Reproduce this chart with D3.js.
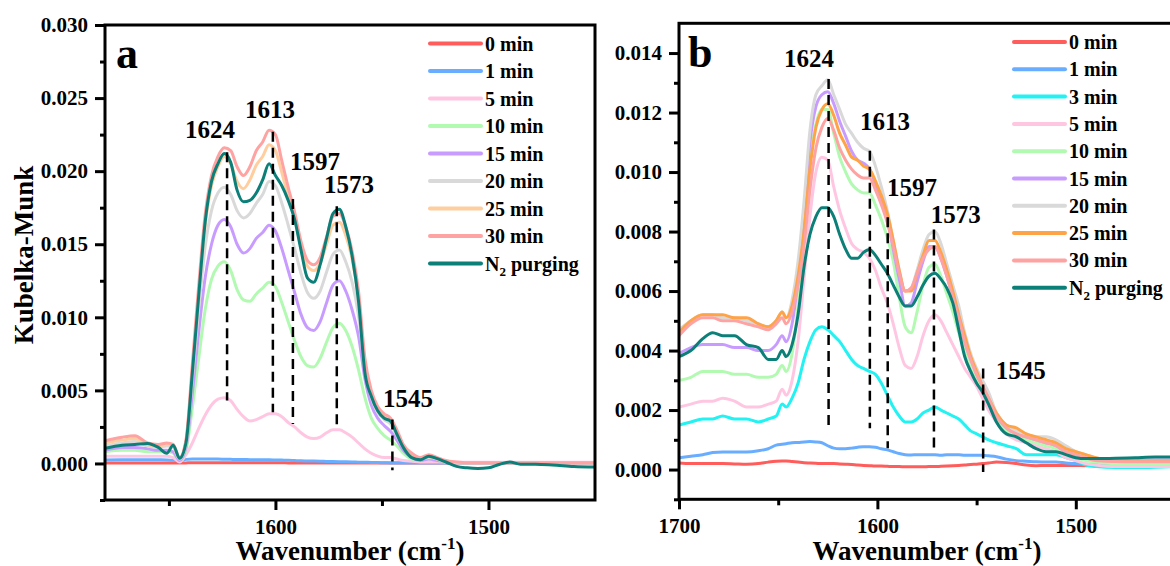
<!DOCTYPE html>
<html>
<head>
<meta charset="utf-8">
<script src="https://cdn.jsdelivr.net/npm/d3@7/dist/d3.min.js"></script>
<style>
  body { margin: 0; background: #fff; }
  svg text { font-family: "Liberation Serif", "Times New Roman", serif; font-weight: bold; fill: #000; }
</style>
</head>
<body>
<div id="chart"></div>
<script>
// ---------- panel a data ----------
const wavenumberA = [1680,1672,1666,1660,1655,1651,1648,1645,1642,1639,1636,1633,1630,1627,1624,1621,1618,1615,1612,1609,
  1606,1603,1600,1597,1594,1591,1588,1585,1582,1579,1576,1573,1570,1567,1564,1561,1558,1555,1552,1549,
  1546,1543,1540,1536,1532,1528,1524,1520,1515,1510,1505,1500,1495,1490,1485,1478,1470,1460,1450];

const a0min = [0.00004,0.00004,0.00004,0.00004,0.00004,0.00004,0.00004,0.00003,0.00004,0.00005,0.00005,0.00005,0.00005,0.00005,0.00005,0.00005,0.00005,0.00005,0.00005,0.00005,
  0.00005,0.00005,0.00005,0.00005,0.00004,0.00004,0.00004,0.00004,0.00004,0.00003,0.00003,0.00003,0.00003,0.00003,0.00003,0.00003,0.00003,0.00003,0.00003,0.00003,
  0.00003,0.00003,0.00003,0.00003,0.00003,0.00003,0.00003,0.00003,0.00003,0.00003,0.00003,0.00003,0.00003,0.00003,0.00003,0.00003,0.00003,0.00003,0.00003];
const a1min = [0.00023,0.00025,0.00026,0.00026,0.00025,0.00024,0.00022,0.00018,0.00028,0.0003,0.0003,0.0003,0.0003,0.0003,0.00029,0.00028,0.00027,0.00027,0.00026,0.00026,
  0.00025,0.00025,0.00024,0.00023,0.00022,0.0002,0.00018,0.00017,0.00016,0.00015,0.00014,0.00013,0.00012,0.00011,0.0001,0.00009,0.00008,0.00007,0.00006,0.00005,
  0.00004,0.00004,0.00003,0.00003,0.00003,0.00003,0.00003,0.00003,0.00003,0.00003,0.00003,0.00003,0.00003,0.00003,0.00003,0.00003,0.00003,0.00003,0.00003];
const a5min = [0.0005,0.0005,0.0005,0.0005,0.0005,0.0005,0.0004,0.0001,0.0006,0.0014,0.0024,0.0033,0.0040,0.0044,0.0045,0.0043,0.0037,0.0032,0.0029,0.0030,
  0.0032,0.0034,0.0034,0.0032,0.0028,0.0025,0.0021,0.0018,0.0017,0.0018,0.0021,0.0023,0.0023,0.0021,0.0018,0.0014,0.0010,0.0007,0.0005,0.0004,
  0.0004,0.0003,0.0002,0.00015,0.0001,0.0001,0.0001,0.0001,0.00008,0.00008,0.00008,0.00008,0.00008,0.00008,0.00008,0.00008,0.00008,0.00008,0.00008];
const a10min = [0.0008,0.0009,0.0009,0.0008,0.0008,0.0008,0.0007,0.0002,0.0009,0.0038,0.0072,0.0105,0.0126,0.0135,0.0138,0.0132,0.0119,0.0112,0.0111,0.0116,
  0.0120,0.0124,0.0121,0.0110,0.0097,0.0084,0.0073,0.0067,0.0066,0.0072,0.0083,0.0093,0.0096,0.0091,0.0080,0.0064,0.0045,0.0031,0.0024,0.0019,
  0.0016,0.0012,0.0007,0.0003,0.0002,0.0003,0.0002,0.0001,0.00005,0.00005,0.00005,0.00005,0.00005,0.00005,0.00005,0.00005,0.00005,0.00005,0.00005];
const a15min = [0.0009,0.0011,0.0011,0.0010,0.0009,0.0009,0.0008,0.0002,0.0011,0.0048,0.0090,0.0127,0.0150,0.0163,0.0167,0.0162,0.0150,0.0144,0.0147,0.0154,
  0.0158,0.0163,0.0159,0.0147,0.0132,0.0117,0.0102,0.0093,0.0091,0.0097,0.0110,0.0122,0.0125,0.0118,0.0105,0.0087,0.0058,0.0040,0.0031,0.0026,
  0.0022,0.0016,0.0009,0.0004,0.0002,0.0003,0.0002,0.0001,0.00005,0.00005,0.00005,0.00005,0.00005,0.00005,0.00005,0.00005,0.00005,0.00005,0.00005];
const a20min = [0.0012,0.0014,0.0015,0.0012,0.0011,0.0012,0.0011,0.0003,0.0013,0.0058,0.0106,0.0148,0.0173,0.0185,0.0189,0.0184,0.0173,0.0168,0.0171,0.0178,
  0.0184,0.0193,0.0190,0.0178,0.0163,0.0147,0.0130,0.0117,0.0113,0.0118,0.0131,0.0143,0.0146,0.0138,0.0124,0.0101,0.0064,0.0045,0.0035,0.0030,
  0.0027,0.0019,0.0011,0.0005,0.0003,0.0004,0.0003,0.0001,0.00005,0.00005,0.00005,0.00005,0.00005,0.00005,0.00005,0.00005,0.00005,0.00005,0.00005];
const a25min = [0.0014,0.0016,0.0017,0.0013,0.0012,0.0013,0.0012,0.0004,0.0015,0.0064,0.0117,0.0163,0.0190,0.0203,0.0210,0.0205,0.0193,0.0188,0.0194,0.0204,
  0.0210,0.0218,0.0214,0.0199,0.0183,0.0168,0.0148,0.0135,0.0132,0.0137,0.0150,0.0163,0.0165,0.0156,0.0140,0.0113,0.0069,0.0048,0.0037,0.0032,
  0.0029,0.0021,0.0012,0.0006,0.0003,0.0005,0.0003,0.0001,0.00005,0.00005,0.00005,0.00005,0.00005,0.00005,0.00005,0.00005,0.00005,0.00005,0.00005];
const a30min = [0.00155,0.0018,0.0019,0.0014,0.0013,0.0014,0.0013,0.0004,0.0016,0.0068,0.0122,0.0170,0.0197,0.0210,0.0216,0.0214,0.0203,0.0197,0.0203,0.0214,
  0.0220,0.0228,0.0225,0.0207,0.0189,0.0172,0.0152,0.0139,0.0136,0.0141,0.0155,0.0169,0.0171,0.0162,0.0145,0.0118,0.0072,0.0050,0.0039,0.0034,
  0.0031,0.0023,0.0013,0.0007,0.0004,0.0006,0.0004,0.0002,0.0001,0.00005,0.00005,0.00005,0.00005,0.00005,0.00005,0.00005,0.00005,0.00005,0.00005];
const aN2 = [0.00103,0.00125,0.0013,0.00137,0.0011,0.0007,0.00125,0.00035,0.0014,0.0062,0.0115,0.0165,0.0193,0.0205,0.0212,0.0206,0.0187,0.0179,0.0180,0.0185,
  0.0194,0.0205,0.0197,0.0190,0.0180,0.0167,0.0146,0.0127,0.0124,0.0136,0.0154,0.0171,0.0174,0.0162,0.0142,0.0111,0.0062,0.0046,0.0036,0.0031,
  0.0029,0.0020,0.0011,0.0004,0.00025,0.0005,0.00033,0.0001,-0.0002,-0.0003,-0.00034,-0.0003,-0.00007,0.0001,-0.00005,-0.00005,-0.0001,-0.0002,-0.00025];

const namesA = ["0 min", "1 min", "5 min", "10 min", "15 min", "20 min", "25 min", "30 min", "N2 purging"];
const colorsA = ["#ff5c5c", "#68adff", "#ffc6e2", "#b2f9b2", "#c89cff", "#d9d9d9", "#ffcd9e", "#ffa2a2", "#0b7f78"];

// dashed marker lines and peak labels (panel a)
const peakLabelsA = ["1624", "1613", "1597", "1573", "1545"];
const markWA = [1622.7, 1601.2, 1591.8, 1571.2, 1545.1];
const markTopA = [0.0213, 0.0227, 0.0181, 0.0176, 0.0030];
const markBottomA = [0.0043, 0.0035, 0.0027, 0.0023, -0.00046];
const labelWA = [1630.7, 1602.5, 1581.4, 1565.5, 1537.8];
const labelVA = [0.0223, 0.02362, 0.02007, 0.01849, 0.00385];

const yTicksA = [0, 0.005, 0.010, 0.015, 0.020, 0.025, 0.030];
const yMinorA = [-0.0025, 0.0025, 0.0075, 0.0125, 0.0175, 0.0225, 0.0275];
const xTicksA = [1600, 1500];
const xMinorA = [1650, 1550];

// ---------- panel b data ----------
const wavenumberB = [1700,1694,1688,1683,1678,1672,1666,1660,1655,1651,1648,1646,1643,1640,1637,1634,1631,1628,1625,1622,
  1619,1616,1613,1610,1607,1604,1601,1598,1595,1592,1589,1586,1583,1580,1577,1574,1571,1568,1565,1562,
  1559,1556,1553,1550,1547,1544,1540,1535,1530,1525,1520,1515,1510,1505,1500,1495,1490,1480,1470,1460,1450];

const b0min = [0.00022,0.0002,0.0002,0.0002,0.0002,0.00019,0.00018,0.0002,0.00025,0.00028,0.00029,0.00029,0.00027,0.00025,0.00023,0.00022,0.00021,0.0002,0.0002,0.0002,
  0.00019,0.00018,0.00017,0.00015,0.00014,0.00013,0.00012,0.00012,0.00011,0.0001,0.0001,0.00009,0.00009,0.00009,0.00009,0.0001,0.0001,0.00011,0.00012,0.00013,
  0.00014,0.00015,0.00017,0.00018,0.0002,0.00022,0.00025,0.00024,0.0002,0.00015,0.00013,0.00014,0.00014,0.00014,0.00014,0.00013,0.00013,0.00012,0.00012,0.00012,0.00012];
const b1min = [0.0004,0.00045,0.0005,0.00057,0.00059,0.00059,0.00059,0.00063,0.0007,0.00082,0.00085,0.00087,0.0009,0.00091,0.00093,0.00094,0.00093,0.0009,0.0008,0.00072,
  0.0007,0.0007,0.00072,0.00075,0.00077,0.00077,0.00075,0.0007,0.00066,0.0006,0.00054,0.0005,0.00049,0.0005,0.0005,0.0005,0.0005,0.00048,0.0005,0.0005,
  0.0005,0.00048,0.00048,0.00048,0.00048,0.00046,0.00043,0.00035,0.0003,0.00028,0.00026,0.00025,0.00025,0.00022,0.0002,0.00018,0.00016,0.00015,0.00015,0.00015,0.00015];
const b3min = [0.0015,0.0016,0.0017,0.0017,0.0018,0.0017,0.0017,0.0016,0.0017,0.0018,0.0022,0.0021,0.0024,0.0029,0.0037,0.0043,0.0047,0.0048,0.0047,0.0045,
  0.0043,0.0040,0.0037,0.0035,0.0034,0.0033,0.0032,0.0029,0.0025,0.0021,0.0018,0.0016,0.0016,0.0017,0.0019,0.0020,0.0021,0.0020,0.0019,0.0018,
  0.0017,0.0015,0.0013,0.0012,0.0011,0.0010,0.0009,0.0008,0.0007,0.0005,0.0005,0.0005,0.0005,0.0004,0.0003,0.00015,0.0001,0.00007,0.00007,0.00008,0.0001];
const b5min = [0.0021,0.0022,0.0023,0.0023,0.0024,0.0023,0.0021,0.0021,0.0022,0.0023,0.0027,0.0025,0.0030,0.0043,0.0064,0.0085,0.0100,0.0105,0.0104,0.0095,
  0.0087,0.0081,0.0076,0.0074,0.0073,0.0071,0.0067,0.0061,0.0056,0.0049,0.0041,0.0035,0.0034,0.0038,0.0045,0.0050,0.0052,0.0050,0.0046,0.0042,
  0.0038,0.0034,0.0031,0.0028,0.0024,0.0020,0.0016,0.0012,0.0010,0.0009,0.0008,0.0007,0.0006,0.0004,0.0003,0.0002,0.00015,0.0001,0.0001,0.0001,0.0001];
const b10min = [0.0030,0.0031,0.0033,0.0033,0.0033,0.0032,0.0032,0.0031,0.0031,0.0032,0.0035,0.0033,0.0039,0.0055,0.0080,0.0104,0.0116,0.0121,0.0121,0.0113,
  0.0105,0.0100,0.0096,0.0094,0.0093,0.0093,0.0089,0.0084,0.0078,0.0070,0.0058,0.0048,0.0046,0.0053,0.0062,0.0068,0.0069,0.0065,0.0059,0.0053,
  0.0046,0.0040,0.0034,0.0030,0.0026,0.0022,0.0017,0.0013,0.0011,0.0010,0.0009,0.0008,0.0007,0.0005,0.0004,0.0003,0.00025,0.0002,0.0002,0.0002,0.0002];
const b15min = [0.0039,0.0041,0.0042,0.0042,0.0042,0.0041,0.0041,0.0040,0.0040,0.0042,0.0045,0.0043,0.0049,0.0064,0.0086,0.0110,0.0122,0.0126,0.0127,0.0123,
  0.0117,0.0112,0.0107,0.0104,0.0103,0.0101,0.0096,0.0090,0.0084,0.0074,0.0064,0.0055,0.0056,0.0063,0.0070,0.0075,0.0075,0.0071,0.0065,0.0058,
  0.0050,0.0043,0.0037,0.0032,0.0028,0.0024,0.0018,0.0014,0.0012,0.0011,0.0010,0.0009,0.0008,0.0006,0.0005,0.0004,0.00035,0.00032,0.00032,0.00032,0.00032];
const b20min = [0.0047,0.0050,0.0052,0.0052,0.0051,0.0051,0.0050,0.0049,0.0048,0.0050,0.0053,0.0051,0.0057,0.0070,0.0090,0.0114,0.0126,0.0129,0.0131,0.0126,
  0.0121,0.0116,0.0113,0.0110,0.0108,0.0107,0.0102,0.0095,0.0087,0.0077,0.0067,0.0060,0.0061,0.0067,0.0074,0.0079,0.0080,0.0076,0.0069,0.0062,
  0.0055,0.0046,0.0039,0.0034,0.0030,0.0026,0.0019,0.0015,0.0013,0.0012,0.0011,0.0011,0.0010,0.0008,0.0006,0.0005,0.0004,0.0003,0.0003,0.0003,0.0003];
const b25min = [0.0046,0.0050,0.0052,0.0052,0.0052,0.0051,0.0051,0.0049,0.0048,0.0050,0.0053,0.0051,0.0055,0.0065,0.0080,0.0101,0.0115,0.0121,0.0123,0.0119,
  0.0113,0.0109,0.0105,0.0104,0.0102,0.0101,0.0097,0.0092,0.0086,0.0077,0.0067,0.0060,0.0060,0.0066,0.0072,0.0077,0.0077,0.0073,0.0067,0.0060,
  0.0052,0.0045,0.0038,0.0033,0.0028,0.0024,0.0019,0.0015,0.0014,0.0012,0.0011,0.0010,0.0009,0.0007,0.0006,0.0005,0.0004,0.0003,0.0003,0.0003,0.0003];
const b30min = [0.0045,0.0049,0.0051,0.0051,0.0050,0.0050,0.0049,0.0048,0.0047,0.0049,0.0051,0.0049,0.0053,0.0062,0.0075,0.0094,0.0108,0.0115,0.0118,0.0114,
  0.0108,0.0104,0.0101,0.0099,0.0098,0.0098,0.0094,0.0089,0.0083,0.0075,0.0066,0.0060,0.0061,0.0066,0.0071,0.0074,0.0075,0.0071,0.0065,0.0058,
  0.0051,0.0043,0.0037,0.0032,0.0028,0.0024,0.0018,0.0014,0.0012,0.0011,0.0010,0.0009,0.0008,0.0006,0.0005,0.0004,0.0003,0.00027,0.00026,0.00026,0.00026];
const bN2 = [0.0038,0.0040,0.0044,0.0046,0.0045,0.0045,0.0042,0.0041,0.0037,0.0037,0.0040,0.0038,0.0042,0.0052,0.0068,0.0079,0.0085,0.0088,0.0088,0.0085,
  0.0079,0.0074,0.0071,0.0071,0.0073,0.0074,0.0072,0.0069,0.0066,0.0062,0.0058,0.0055,0.0055,0.0058,0.0062,0.0065,0.0066,0.0064,0.0061,0.0056,
  0.0047,0.0038,0.0033,0.0029,0.0026,0.0022,0.0016,0.0012,0.0011,0.0009,0.0007,0.0006,0.0006,0.0005,0.0004,0.00037,0.00037,0.00038,0.0004,0.00042,0.00042];

const namesB = ["0 min", "1 min", "3 min", "5 min", "10 min", "15 min", "20 min", "25 min", "30 min", "N2 purging"];
const colorsB = ["#ff5c5c", "#68adff", "#22f2f2", "#ffc6e2", "#b2f9b2", "#c89cff", "#d9d9d9", "#ffa347", "#ffa2a2", "#0b7f78"];

const peakLabelsB = ["1624", "1613", "1597", "1573", "1545"];
const markWB = [1624.6, 1603.8, 1594.8, 1571.5, 1546.7];
const markTopB = [0.01313, 0.01072, 0.00848, 0.00807, 0.0034];
const markBottomB = [0.00132, 0.00139, 0.00072, 0.00055, -0.00008];
const labelWB = [1634.5, 1596.2, 1582.6, 1560.5, 1527.7];
const labelVB = [0.01352, 0.01142, 0.00918, 0.00828, 0.00306];

const yTicksB = [0, 0.002, 0.004, 0.006, 0.008, 0.010, 0.012, 0.014];
const yMinorB = [-0.001, 0.001, 0.003, 0.005, 0.007, 0.009, 0.011, 0.013];
const xTicksB = [1700, 1600, 1500];
const xMinorB = [1650, 1550];

let svg = d3.select("#chart").append("svg")
  .attr("width", 1170)
  .attr("height", 566);

svg.append("rect").attr("width", 1170).attr("height", 566).attr("fill", "white");

let drawPanel = (cfg) => {
  let x = d3.scaleLinear().domain(cfg.xDomain).range(cfg.xRange);
  let y = d3.scaleLinear().domain(cfg.yDomain).range(cfg.yRange);
  let g = svg.append("g");

  g.append("clipPath").attr("id", "clip-" + cfg.id)
    .append("rect")
    .attr("x", cfg.xRange[0]).attr("y", cfg.yRange[1])
    .attr("width", cfg.xRange[1] - cfg.xRange[0])
    .attr("height", cfg.yRange[0] - cfg.yRange[1]);

  let line = d3.line()
    .x((d, i) => x(cfg.wavenumber[i]))
    .y(d => y(d))
    .curve(d3.curveMonotoneX);

  g.append("g")
    .attr("clip-path", `url(#clip-${cfg.id})`)
    .selectAll("path")
    .data(cfg.series)
    .enter()
    .append("path")
    .attr("d", d => line(d))
    .attr("fill", "none")
    .attr("stroke", (d, i) => cfg.colors[i])
    .attr("stroke-width", 3)
    .attr("stroke-linejoin", "round");

  // dashed peak markers
  g.selectAll(".mark")
    .data(cfg.markW)
    .enter()
    .append("line")
    .attr("x1", d => x(d)).attr("x2", d => x(d))
    .attr("y1", (d, i) => y(cfg.markTop[i]))
    .attr("y2", (d, i) => y(cfg.markBottom[i]))
    .attr("stroke", "black")
    .attr("stroke-width", 2.5)
    .attr("stroke-dasharray", "10,6");

  g.selectAll(".peak")
    .data(cfg.peakLabels)
    .enter()
    .append("text")
    .attr("x", (d, i) => x(cfg.labelW[i]))
    .attr("y", (d, i) => y(cfg.labelV[i]))
    .attr("text-anchor", "middle")
    .style("font-size", "25px")
    .text(d => d);

  // axes
  let left = g.append("g").attr("transform", `translate(${cfg.xRange[0]},0)`);
  left.call(d3.axisLeft(y).tickValues(cfg.yTicks).tickSize(10).tickPadding(7).tickFormat(d3.format(".3f")));
  left.append("g").call(d3.axisLeft(y).tickValues(cfg.yMinor).tickSize(5).tickFormat(""));

  let bottom = g.append("g").attr("transform", `translate(0,${cfg.yRange[0]})`);
  bottom.call(d3.axisBottom(x).tickValues(cfg.xTicks).tickSize(10).tickPadding(9).tickFormat(d3.format("d")));
  bottom.append("g").call(d3.axisBottom(x).tickValues(cfg.xMinor).tickSize(6).tickFormat(""));

  g.selectAll(".domain").remove();
  g.selectAll(".tick line").attr("stroke", "black").attr("stroke-width", 3);
  g.selectAll(".tick text").style("font-size", "21px").attr("fill", "black");

  g.append("rect")
    .attr("x", cfg.xRange[0]).attr("y", cfg.yRange[1])
    .attr("width", cfg.xRange[1] - cfg.xRange[0])
    .attr("height", cfg.yRange[0] - cfg.yRange[1])
    .attr("fill", "none")
    .attr("stroke", "black")
    .attr("stroke-width", 3);

  // panel letter
  g.append("text")
    .attr("x", cfg.letterX).attr("y", cfg.letterY)
    .style("font-size", "44px")
    .text(cfg.letter);

  // x title
  let title = g.append("text")
    .attr("x", (cfg.xRange[0] + cfg.xRange[1]) / 2)
    .attr("y", 560)
    .attr("text-anchor", "middle")
    .style("font-size", "27px");
  title.append("tspan").text("Wavenumber (cm");
  title.append("tspan").attr("dy", -11).style("font-size", "17px").text("-1");
  title.append("tspan").attr("dy", 11).text(")");

  // legend
  let legend = g.append("g");
  cfg.names.forEach((name, i) => {
    let ly = cfg.legendY + i * cfg.legendStep;
    legend.append("line")
      .attr("x1", cfg.legendX).attr("x2", cfg.legendX + 51)
      .attr("y1", ly).attr("y2", ly)
      .attr("stroke", cfg.colors[i])
      .attr("stroke-width", 4)
      .attr("stroke-linecap", "round");
    let t = legend.append("text")
      .attr("x", cfg.legendX + 55)
      .attr("y", ly + 7)
      .style("font-size", "20px");
    if (name.startsWith("N2")) {
      t.append("tspan").text("N");
      t.append("tspan").attr("dy", 5).style("font-size", "13px").text("2");
      t.append("tspan").attr("dy", -5).text(" purging");
    } else {
      t.text(name);
    }
  });
};

drawPanel({
  id: "a", letter: "a", letterX: 116, letterY: 68,
  xDomain: [1680, 1450], xRange: [105, 595],
  yDomain: [-0.0025, 0.030], yRange: [500, 25],
  wavenumber: wavenumberA,
  series: [a0min, a1min, a5min, a10min, a15min, a20min, a25min, a30min, aN2],
  names: namesA, colors: colorsA,
  markW: markWA, markTop: markTopA, markBottom: markBottomA,
  peakLabels: peakLabelsA, labelW: labelWA, labelV: labelVA,
  yTicks: yTicksA, yMinor: yMinorA, xTicks: xTicksA, xMinor: xMinorA,
  legendX: 430, legendY: 43.5, legendStep: 27.5
});

drawPanel({
  id: "b", letter: "b", letterX: 688, letterY: 67,
  xDomain: [1700, 1450], xRange: [679, 1175],
  yDomain: [-0.001, 0.015], yRange: [499.3, 23.3],
  wavenumber: wavenumberB,
  series: [b0min, b1min, b3min, b5min, b10min, b15min, b20min, b25min, b30min, bN2],
  names: namesB, colors: colorsB,
  markW: markWB, markTop: markTopB, markBottom: markBottomB,
  peakLabels: peakLabelsB, labelW: labelWB, labelV: labelVB,
  yTicks: yTicksB, yMinor: yMinorB, xTicks: xTicksB, xMinor: xMinorB,
  legendX: 1014, legendY: 42, legendStep: 27.3
});

// y title, only on the left panel
svg.append("text")
  .attr("transform", "translate(33,255) rotate(-90)")
  .attr("text-anchor", "middle")
  .style("font-size", "27px")
  .text("Kubelka-Munk");
</script>
</body>
</html>
